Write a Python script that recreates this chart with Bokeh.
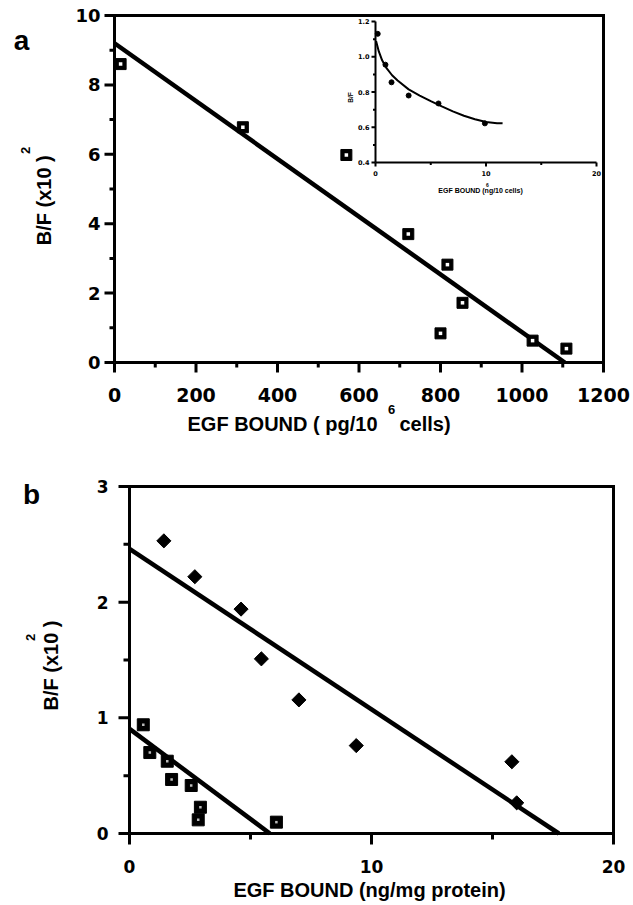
import math
from bokeh.plotting import figure
from bokeh.models import Range1d
from bokeh.layouts import column
from bokeh.core.properties import value
from bokeh.embed import file_html
from bokeh.resources import INLINE

# ---------------- data: panel a (main Scatchard plot) ----------------
a_bound = [15, 315, 569, 721, 817, 854, 800, 1026, 1109]
a_bf = [8.6, 6.78, 5.98, 3.7, 2.82, 1.72, 0.84, 0.63, 0.4]
a_fit_x = [0, 1105]
a_fit_y = [9.2, 0]
a_xlim = [0, 1200]
a_ylim = [0, 10]
a_xticks = [0, 200, 400, 600, 800, 1000, 1200]
a_xminor = [100, 300, 500, 700, 900, 1100]
a_yticks = [0, 2, 4, 6, 8, 10]
a_yminor = [1, 3, 5, 7, 9]

# ---------------- data: panel a inset ----------------
ins_x = [0.2, 0.9, 1.45, 3.0, 5.7, 9.9]
ins_y = [1.13, 0.955, 0.855, 0.78, 0.735, 0.622]
ins_curve_x = [0.05, 0.3, 0.6, 1.0, 1.5, 2.0, 3.0, 4.0, 5.0, 6.0, 7.0, 8.0, 9.0, 10.0, 11.0, 11.5]
ins_curve_y = [1.09, 1.03, 0.98, 0.935, 0.895, 0.865, 0.815, 0.78, 0.748, 0.718, 0.69, 0.665, 0.645, 0.63, 0.623, 0.622]
ins_xlim = [0, 20]
ins_ylim = [0.4, 1.2]
ins_xticks = [0, 10, 20]
ins_xminor = [5, 15]
ins_yticks = [0.4, 0.6, 0.8, 1.0, 1.2]
ins_yminor = [0.5, 0.7, 0.9, 1.1]
ins_xlabels = ["0", "10", "20"]
ins_ylabels = ["0.4", "0.6", "0.8", "1.0", "1.2"]

# ---------------- data: panel b ----------------
b_dia_x = [1.42, 2.7, 4.61, 5.45, 7.0, 9.37, 15.8, 16.0]
b_dia_y = [2.53, 2.22, 1.94, 1.51, 1.155, 0.76, 0.62, 0.265]
b_sq_x = [0.57, 0.84, 1.56, 1.74, 2.55, 2.93, 2.84, 6.07]
b_sq_y = [0.94, 0.70, 0.625, 0.467, 0.415, 0.227, 0.118, 0.098]
b_fit1_x = [0, 17.74]
b_fit1_y = [2.46, 0]
b_fit2_x = [0, 5.8]
b_fit2_y = [0.905, 0]
b_xlim = [0, 20]
b_ylim = [0, 3]
b_xticks = [0, 10, 20]
b_xminor = [5, 15]
b_yticks = [0, 1, 2, 3]
b_yminor = [0.5, 1.5, 2.5]

DIG = "DejaVu Sans"
LAB = "Liberation Sans"
PAGE_LEFT = 0
W = 633


def fmt(v):
    return str(int(v)) if float(v).is_integer() else ("%.1f" % v)


def panel(h, ctop, box, xr, yr):
    L, R, T, B = box
    sx = (R - L) / (xr[1] - xr[0])
    sy = (B - T) / (yr[1] - yr[0])
    xs = xr[0] - (L - PAGE_LEFT) / sx
    xe = xr[1] + (PAGE_LEFT + W - R) / sx
    ys = yr[0] - (ctop + h - B) / sy
    ye = yr[1] + (T - ctop) / sy
    p = figure(width=W, height=h, output_backend="svg", toolbar_location=None,
               x_range=Range1d(xs, xe), y_range=Range1d(ys, ye),
               x_axis_location=None, y_axis_location=None,
               min_border=0, min_border_left=0, min_border_right=0,
               min_border_top=0, min_border_bottom=0)
    p.outline_line_color = None
    p.grid.visible = False
    p.background_fill_color = "white"
    p.border_fill_color = "white"
    fx = lambda px: xr[0] + (px - L) / sx
    fy = lambda py: yr[0] + (B - py) / sy
    return p, fx, fy, sx, sy


def txt(p, x, y, text, size, font=LAB, align="center", baseline="middle", angle=0, **kw):
    p.text(x=x, y=y, text=text, text_font=value(font), text_font_size=value(size),
           text_font_style="bold", text_color="black", text_align=align,
           text_baseline=baseline, angle=angle, **kw)


def axes(p, sx, sy, xlim, ylim, xt, xm, yt, ym, lw=3, major=10, minor=5, **kw):
    x0, x1 = xlim
    y0, y1 = ylim
    p.line([x0, x0, x1, x1, x0], [y0, y1, y1, y0, y0], line_width=lw, color="black",
           line_join="miter", **kw)
    p.segment(x0=xt, y0=[y0] * len(xt), x1=xt, y1=[y0 - major / sy] * len(xt),
              line_width=lw, color="black", **kw)
    p.segment(x0=xm, y0=[y0] * len(xm), x1=xm, y1=[y0 - minor / sy] * len(xm),
              line_width=lw, color="black", **kw)
    p.segment(x0=[x0] * len(yt), y0=yt, x1=[x0 - major / sx] * len(yt), y1=yt,
              line_width=lw, color="black", **kw)
    p.segment(x0=[x0] * len(ym), y0=ym, x1=[x0 - minor / sx] * len(ym), y1=ym,
              line_width=lw, color="black", **kw)


# ================= figure a =================
A_TOP = 0
A_H = 448
pa, ax_, ay_, asx, asy = panel(A_H, A_TOP, (114, 603, 15, 362), a_xlim, a_ylim)
axes(pa, asx, asy, a_xlim, a_ylim, a_xticks, a_xminor, a_yticks, a_yminor)
txt(pa, a_xticks, [ay_(394)] * len(a_xticks), [fmt(v) for v in a_xticks], "19px", font=DIG)
txt(pa, [ax_(100)] * len(a_yticks), a_yticks, [fmt(v) for v in a_yticks], "18px", font=DIG,
    align="right")

pa.line(a_fit_x, a_fit_y, line_width=4.5, color="black")
pa.scatter(a_bound, a_bf, marker="square", size=11, fill_color="black", line_color="black")
pa.scatter(a_bound, a_bf, marker="square", size=3.5, fill_color="white", line_color=None)

txt(pa, [ax_(21)], [ay_(40)], ["a"], "28px")
txt(pa, [ax_(43)], [ay_(197)], ["B/F  (x10 )"], "20px", angle=math.pi / 2)
txt(pa, [ax_(25)], [ay_(150)], ["2"], "13px", angle=math.pi / 2)
txt(pa, [ax_(187)], [ay_(423)], ["EGF BOUND ( pg/10"], "20px", align="left")
txt(pa, [ax_(391)], [ay_(409)], ["6"], "13px")
txt(pa, [ax_(399)], [ay_(423)], ["cells)"], "20px", align="left")

# ---- inset via extra ranges ----
IL, IR, IT, IB = 375, 596, 21, 162
isx = (IR - IL) / (ins_xlim[1] - ins_xlim[0])
isy = (IB - IT) / (ins_ylim[1] - ins_ylim[0])
pa.extra_x_ranges = {"ins": Range1d(ins_xlim[0] - (IL - PAGE_LEFT) / isx,
                                    ins_xlim[1] + (PAGE_LEFT + W - IR) / isx)}
pa.extra_y_ranges = {"ins": Range1d(ins_ylim[0] - (A_TOP + A_H - IB) / isy,
                                    ins_ylim[1] + (IT - A_TOP) / isy)}
kw = dict(x_range_name="ins", y_range_name="ins")
ix_ = lambda px: ins_xlim[0] + (px - IL) / isx
iy_ = lambda py: ins_ylim[0] + (IB - py) / isy

x0, x1 = ins_xlim
y0, y1 = ins_ylim
pa.line([x0, x1], [y0, y0], line_width=2, color="black", **kw)
pa.line([x0, x0], [y0, y1], line_width=2, color="black", **kw)
pa.segment(x0=[x0] * len(ins_yticks), y0=ins_yticks, x1=[x0 - 4 / isx] * len(ins_yticks),
           y1=ins_yticks, line_width=2, color="black", **kw)
pa.segment(x0=[x0] * len(ins_yminor), y0=ins_yminor, x1=[x0 - 2.5 / isx] * len(ins_yminor),
           y1=ins_yminor, line_width=2, color="black", **kw)
pa.segment(x0=ins_xticks, y0=[y0] * 3, x1=ins_xticks, y1=[y0 - 4 / isy] * 3,
           line_width=2, color="black", **kw)
pa.segment(x0=ins_xminor, y0=[y0] * 2, x1=ins_xminor, y1=[y0 - 2.5 / isy] * 2,
           line_width=2, color="black", **kw)
txt(pa, [ix_(369)] * len(ins_yticks), ins_yticks, ins_ylabels, "6.5px",
    font=DIG, align="right", **kw)
txt(pa, ins_xticks, [iy_(173)] * 3, ins_xlabels, "6.5px", font=DIG, **kw)
txt(pa, [ix_(481)], [iy_(190)], ["EGF BOUND (ng/10  cells)"], "7px", **kw)
txt(pa, [ix_(487)], [iy_(184)], ["6"], "5px", **kw)
txt(pa, [ix_(350)], [iy_(97)], ["B/F"], "6.5px", angle=math.pi / 2, **kw)
pa.line(ins_curve_x, ins_curve_y, line_width=2, color="black", **kw)
pa.scatter(ins_x, ins_y, marker="circle", size=5, fill_color="black", line_color="black", **kw)

# ================= figure b =================
B_TOP = A_TOP + A_H
B_H = 456
pb, bx_, by_, bsx, bsy = panel(B_H, B_TOP, (129, 613, 486, 833), b_xlim, b_ylim)
axes(pb, bsx, bsy, b_xlim, b_ylim, b_xticks, b_xminor, b_yticks, b_yminor, major=11, minor=6)
txt(pb, b_xticks, [by_(866)] * len(b_xticks), [fmt(v) for v in b_xticks], "17px", font=DIG)
txt(pb, [bx_(108)] * len(b_yticks), b_yticks, [fmt(v) for v in b_yticks], "17px", font=DIG,
    align="right")

pb.line(b_fit1_x, b_fit1_y, line_width=4.5, color="black")
pb.line(b_fit2_x, b_fit2_y, line_width=4.5, color="black")
pb.scatter(b_dia_x, b_dia_y, marker="square", angle=math.pi / 4, size=10,
           fill_color="black", line_color="black")
pb.scatter(b_sq_x, b_sq_y, marker="square", size=12, fill_color="black", line_color="black")
pb.scatter(b_sq_x, b_sq_y, marker="square", size=2.5, fill_color="#bbbbbb", line_color=None)

txt(pb, [bx_(31)], [by_(494)], ["b"], "28px")
txt(pb, [bx_(50)], [by_(665)], ["B/F (x10 )"], "20px", angle=math.pi / 2)
txt(pb, [bx_(30)], [by_(637)], ["2"], "13px", angle=math.pi / 2)
txt(pb, [bx_(369)], [by_(889)], ["EGF BOUND (ng/mg protein)"], "20px")

layout = column(pa, pb, spacing=0)
open("out.html", "w").write(file_html(layout, INLINE))
